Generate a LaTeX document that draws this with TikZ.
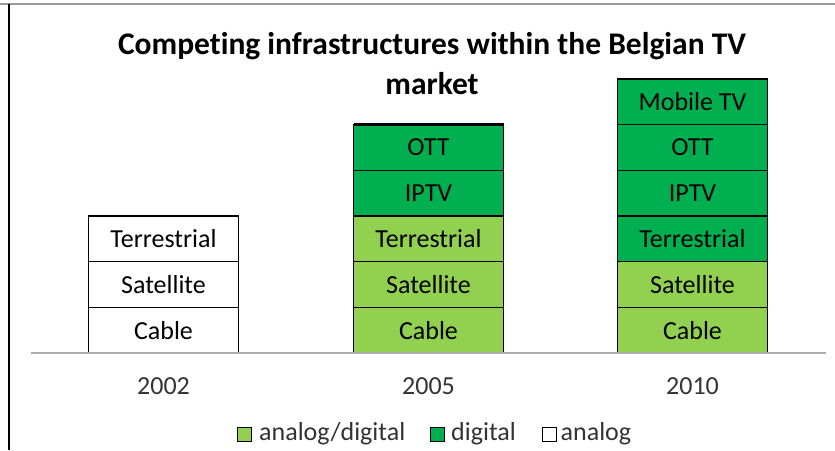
\documentclass[tikz,border=0pt]{standalone}
\usepackage{fontspec}
\setmainfont{Carlito}[Ligatures=NoCommon]
\usetikzlibrary{positioning}
\definecolor{lightgrn}{RGB}{146,208,80}
\definecolor{darkgrn}{RGB}{0,176,80}

\begin{document}
\begin{tikzpicture}[x=1pt,y=-1pt,
	seg/.style={draw=black, line width=1.2pt, minimum width=150pt, minimum height=45.7pt, inner sep=0pt, outer sep=0pt, font=\fontsize{26}{30}\selectfont},
	ana/.style={seg, fill=white},
	anadig/.style={seg, fill=lightgrn},
	dig/.style={seg, fill=darkgrn},
	yearlbl/.style={font=\fontsize{26}{30}\selectfont, text=black!80},
	legbox/.style={draw=black, line width=1pt, minimum size=14pt, inner sep=0pt},
	legtxt/.style={anchor=west, inner sep=0pt, font=\fontsize{26}{30}\selectfont, text=black!80}]
	\useasboundingbox (0,0) rectangle (835,450);

	% frame
	\draw[gray!80, line width=2pt] (0,4) -- (835,4);
	\draw[black, line width=2pt] (9,4) -- (9,450);

	% title
	\node[font=\bfseries\fontsize{31.5}{40}\selectfont, align=center] (title) at (432,64) {Competing infrastructures within the Belgian TV\\market};

	% bar bases
	\coordinate (base02) at (163.5,353);
	\coordinate (base05) at (428.5,353);
	\coordinate (base10) at (692.5,353);

	% 2002
	\node[ana, above=0pt of base02] (cab02) {Cable};
	\node[ana, above=0pt of cab02] (sat02) {Satellite};
	\node[ana, above=0pt of sat02] (ter02) {Terrestrial};

	% 2005
	\node[anadig, above=0pt of base05] (cab05) {Cable};
	\node[anadig, above=0pt of cab05] (sat05) {Satellite};
	\node[anadig, above=0pt of sat05] (ter05) {Terrestrial};
	\node[dig, above=0pt of ter05] (ipt05) {IPTV};
	\node[dig, above=0pt of ipt05] (ott05) {OTT};

	% 2010
	\node[anadig, above=0pt of base10] (cab10) {Cable};
	\node[anadig, above=0pt of cab10] (sat10) {Satellite};
	\node[dig, above=0pt of sat10] (ter10) {Terrestrial};
	\node[dig, above=0pt of ter10] (ipt10) {IPTV};
	\node[dig, above=0pt of ipt10] (ott10) {OTT};
	\node[dig, above=0pt of ott10] (mob10) {Mobile TV};

	% thick tops
	\draw[line width=2.6pt] (ter02.north west) -- (ter02.north east);
	\draw[line width=2.6pt] (ott05.north west) -- (ott05.north east);
	\draw[line width=2.6pt] (mob10.north west) -- (mob10.north east);

	% axis
	\coordinate (axl) at (31,353);
	\coordinate (axr) at (826,353);
	\draw[gray!65, line width=1.6pt] (axl) -- (axr);

	% years
	\node[yearlbl] (y02) at (163.5,386) {2002};
	\node[yearlbl] (y05) at (428.5,386) {2005};
	\node[yearlbl] (y10) at (692.5,386) {2010};

	% legend
	\node[legbox, fill=lightgrn] (lad) at (244.5,434) {};
	\node[legtxt, right=7pt of lad] (tad) {analog/digital};
	\node[legbox, fill=darkgrn] (ldg) at (437.5,434) {};
	\node[legtxt, right=6pt of ldg] (tdg) {digital};
	\node[legbox, fill=white] (lan) at (549,434) {};
	\node[legtxt, right=4pt of lan] (tan) {analog};
\end{tikzpicture}
\end{document}
